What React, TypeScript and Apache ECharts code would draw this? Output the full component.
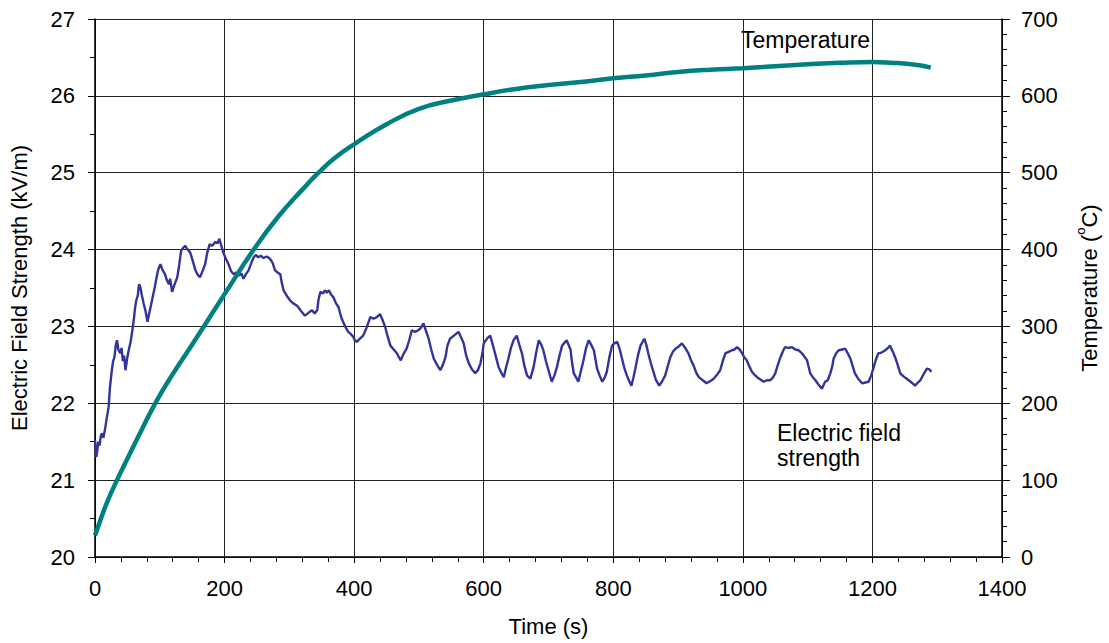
import React, { useEffect, useRef } from "react";
import * as echarts from "echarts";

const timeTicks = [0, 200, 400, 600, 800, 1000, 1200, 1400];
const fieldTicks = [20, 21, 22, 23, 24, 25, 26, 27];
const tempTicks = [0, 100, 200, 300, 400, 500, 600, 700];

// [time (s), electric field strength (kV/m)]
const fieldReadings: [number, number][] = [
  [0, 21.52], [2, 21.3], [3, 21.35], [5, 21.5], [7, 21.45], [9, 21.58], [11, 21.61], [13, 21.55], [16, 21.69],
  [18, 21.8], [21, 21.95], [23, 22.2], [26, 22.43], [28, 22.55], [30, 22.6], [32, 22.75], [34, 22.82], [36, 22.7],
  [39, 22.65], [41, 22.72], [43, 22.55], [45, 22.62], [47, 22.43], [50, 22.6], [52, 22.69], [55, 22.8], [57, 22.91],
  [60, 23.1], [62, 23.25], [64, 23.35], [66, 23.4], [68, 23.55], [70, 23.51], [72, 23.42], [75, 23.3], [78, 23.2],
  [81, 23.06], [84, 23.18], [88, 23.34], [92, 23.5], [96, 23.68], [98, 23.75], [101, 23.81], [104, 23.74], [108, 23.68],
  [111, 23.6], [114, 23.55], [116, 23.62], [119, 23.45], [123, 23.55], [127, 23.64], [130, 23.8], [133, 23.99],
  [136, 24.02], [139, 24.05], [143, 24.0], [147, 23.96], [151, 23.85], [155, 23.73], [158, 23.68], [162, 23.64],
  [166, 23.72], [170, 23.81], [173, 23.95], [177, 24.07], [181, 24.05], [186, 24.1], [189, 24.08], [192, 24.14],
  [195, 24.05], [198, 23.96], [202, 23.88], [206, 23.81], [210, 23.72], [214, 23.68], [218, 23.7], [222, 23.66],
  [226, 23.69], [229, 23.62], [233, 23.68], [237, 23.73], [241, 23.82], [245, 23.9], [248, 23.93], [252, 23.9],
  [256, 23.92], [260, 23.89], [265, 23.91], [270, 23.88], [274, 23.83], [278, 23.73], [282, 23.7], [286, 23.68],
  [288, 23.58], [291, 23.47], [296, 23.4], [301, 23.34], [306, 23.3], [312, 23.27], [318, 23.2], [324, 23.14],
  [330, 23.18], [335, 23.21], [339, 23.17], [343, 23.21], [345, 23.35], [348, 23.45], [352, 23.43], [355, 23.47],
  [358, 23.44], [361, 23.47], [364, 23.42], [368, 23.38], [372, 23.3], [376, 23.25], [380, 23.12], [384, 23.04],
  [388, 22.97], [391, 22.93], [395, 22.9], [399, 22.86], [401, 22.82], [404, 22.8], [409, 22.84], [414, 22.88],
  [419, 22.98], [425, 23.12], [430, 23.1], [435, 23.12], [440, 23.16], [444, 23.08], [448, 22.99], [452, 22.86],
  [456, 22.75], [461, 22.7], [466, 22.65], [469, 22.6], [472, 22.56], [476, 22.64], [481, 22.71], [485, 22.82],
  [489, 22.95], [494, 22.93], [499, 22.95], [503, 22.98], [507, 23.04], [511, 22.94], [515, 22.84], [519, 22.7],
  [523, 22.58], [528, 22.5], [533, 22.43], [537, 22.5], [541, 22.6], [544, 22.75], [548, 22.84], [554, 22.88],
  [561, 22.93], [565, 22.86], [569, 22.78], [573, 22.62], [577, 22.52], [582, 22.44], [587, 22.39], [591, 22.43],
  [595, 22.52], [598, 22.65], [600, 22.78], [605, 22.84], [610, 22.88], [615, 22.73], [619, 22.6], [623, 22.47],
  [627, 22.4], [631, 22.34], [634, 22.45], [638, 22.58], [642, 22.72], [646, 22.82], [651, 22.88], [655, 22.76],
  [659, 22.65], [663, 22.48], [667, 22.36], [672, 22.32], [677, 22.47], [681, 22.66], [685, 22.82], [689, 22.76],
  [692, 22.69], [696, 22.55], [700, 22.43], [705, 22.28], [709, 22.36], [713, 22.47], [717, 22.62], [721, 22.75],
  [728, 22.82], [734, 22.7], [736, 22.55], [739, 22.39], [743, 22.33], [746, 22.28], [750, 22.42], [754, 22.56],
  [758, 22.72], [762, 22.82], [766, 22.76], [770, 22.69], [775, 22.45], [779, 22.36], [783, 22.28], [787, 22.34],
  [790, 22.41], [794, 22.6], [798, 22.75], [802, 22.78], [806, 22.8], [810, 22.7], [813, 22.6], [817, 22.46],
  [821, 22.36], [825, 22.28], [828, 22.23], [831, 22.33], [834, 22.45], [838, 22.62], [842, 22.75], [848, 22.84],
  [851, 22.76], [854, 22.65], [858, 22.52], [862, 22.41], [866, 22.3], [871, 22.23], [875, 22.28], [880, 22.36],
  [884, 22.48], [888, 22.6], [892, 22.67], [896, 22.71], [901, 22.74], [906, 22.78], [911, 22.72], [916, 22.65],
  [920, 22.56], [924, 22.49], [928, 22.4], [932, 22.34], [938, 22.3], [944, 22.26], [950, 22.29], [955, 22.32],
  [960, 22.37], [965, 22.43], [969, 22.55], [973, 22.65], [978, 22.67], [983, 22.69], [987, 22.7], [991, 22.73],
  [995, 22.7], [999, 22.65], [1002, 22.6], [1006, 22.56], [1010, 22.48], [1014, 22.41], [1018, 22.37], [1022, 22.34],
  [1027, 22.31], [1032, 22.28], [1037, 22.3], [1042, 22.3], [1046, 22.33], [1050, 22.39], [1054, 22.5], [1058, 22.6],
  [1062, 22.68], [1065, 22.73], [1070, 22.72], [1076, 22.73], [1081, 22.7], [1086, 22.69], [1090, 22.66], [1094, 22.62],
  [1099, 22.56], [1102, 22.46], [1104, 22.39], [1108, 22.34], [1112, 22.3], [1117, 22.24], [1122, 22.19], [1127, 22.28],
  [1131, 22.3], [1135, 22.39], [1138, 22.48], [1140, 22.58], [1144, 22.65], [1148, 22.69], [1153, 22.7], [1158, 22.71],
  [1162, 22.65], [1166, 22.58], [1170, 22.47], [1173, 22.39], [1178, 22.32], [1184, 22.26], [1189, 22.27], [1194, 22.28],
  [1198, 22.36], [1202, 22.47], [1205, 22.56], [1209, 22.65], [1214, 22.66], [1220, 22.69], [1224, 22.72], [1227, 22.75],
  [1231, 22.68], [1235, 22.6], [1239, 22.5], [1243, 22.39], [1248, 22.35], [1253, 22.32], [1259, 22.28], [1266, 22.23],
  [1270, 22.27], [1274, 22.3], [1279, 22.38], [1284, 22.45], [1288, 22.44], [1291, 22.41],
];

// [time (s), temperature (°C)]
const tempReadings: [number, number][] = [
  [0, 28], [5, 40], [10, 52], [20, 74], [34, 100], [50, 128], [70, 162], [93, 200], [120, 238], [145, 270],
  [168, 300], [200, 342], [245, 400], [283, 443], [320, 478], [345, 500], [370, 519], [400, 537], [450, 563],
  [500, 583], [550, 594], [600, 602], [650, 609], [700, 614], [750, 618], [800, 623], [850, 626.5], [900, 631],
  [950, 634], [1000, 636], [1050, 638.5], [1100, 641], [1150, 643], [1200, 644], [1230, 643], [1260, 641], [1290, 637],
];

const FONT = "'Liberation Sans', Arial, sans-serif";
const AXIS_COLOR = "#000";
const GRID_COLOR = "#222";

export default function App() {
  const ref = useRef<HTMLDivElement>(null);

  useEffect(() => {
    if (!ref.current) return;
    const chart = echarts.init(ref.current, undefined, { renderer: "svg" });
    const labelStyle = { color: "#000", fontSize: 22, fontFamily: FONT };
    const nameStyle = { color: "#000", fontSize: 22, fontFamily: FONT };
    chart.setOption({
      animation: false,
      backgroundColor: "#fff",
      grid: { left: 95, right: 107, top: 19, bottom: 86, containLabel: false },
      xAxis: {
        type: "value",
        min: timeTicks[0],
        max: timeTicks[timeTicks.length - 1],
        interval: 200,
        name: "Time (s)",
        nameLocation: "middle",
        nameGap: 58,
        nameTextStyle: nameStyle,
        axisLine: { show: true, lineStyle: { color: AXIS_COLOR, width: 1.5 } },
        axisTick: { show: true, length: 6, lineStyle: { color: AXIS_COLOR } },
        minorTick: { show: true, splitNumber: 5, length: 5, lineStyle: { color: AXIS_COLOR } },
        axisLabel: { ...labelStyle, margin: 20, formatter: (v: number) => String(v) },
        splitLine: { show: true, lineStyle: { color: GRID_COLOR, width: 1 } },
      },
      yAxis: [
        {
          type: "value",
          position: "left",
          min: fieldTicks[0],
          max: fieldTicks[fieldTicks.length - 1],
          interval: 1,
          name: "Electric Field Strength (kV/m)",
          nameLocation: "middle",
          nameGap: 65,
          nameTextStyle: nameStyle,
          axisLine: { show: true, lineStyle: { color: AXIS_COLOR, width: 1.5 } },
          axisTick: { show: true, length: 7, lineStyle: { color: AXIS_COLOR } },
          minorTick: { show: true, splitNumber: 2, length: 5, lineStyle: { color: AXIS_COLOR } },
          axisLabel: { ...labelStyle, margin: 20, formatter: (v: number) => String(v) },
          splitLine: { show: true, lineStyle: { color: GRID_COLOR, width: 1 } },
        },
        {
          type: "value",
          position: "right",
          min: tempTicks[0],
          max: tempTicks[tempTicks.length - 1],
          interval: 100,
          name: "{a|Temperature (}{b|o}{a|C)}",
          nameLocation: "middle",
          nameGap: 72,
          nameRotate: 90,
          nameTextStyle: {
            ...nameStyle,
            rich: {
              a: { fontSize: 22, fontFamily: FONT, color: "#000", lineHeight: 26, verticalAlign: "bottom" },
              b: { fontSize: 13, fontFamily: FONT, color: "#000", lineHeight: 14, verticalAlign: "top" },
            },
          },
          axisLine: { show: true, lineStyle: { color: AXIS_COLOR, width: 1.5 } },
          axisTick: { show: true, length: 8, lineStyle: { color: AXIS_COLOR } },
          minorTick: { show: true, splitNumber: 5, length: 5, lineStyle: { color: AXIS_COLOR } },
          axisLabel: { ...labelStyle, margin: 19, formatter: (v: number) => String(v) },
          splitLine: { show: false },
        },
      ],
      graphic: [
        {
          type: "text",
          left: 741,
          top: 28,
          style: { text: "Temperature", fill: "#000", font: `23px ${FONT}` },
        },
        {
          type: "text",
          left: 777,
          top: 420,
          style: { text: "Electric field\nstrength", fill: "#000", font: `23px ${FONT}`, lineHeight: 25 },
        },
      ],
      series: [
        {
          type: "line",
          name: "Electric field strength",
          yAxisIndex: 0,
          data: fieldReadings,
          showSymbol: false,
          symbol: "none",
          lineStyle: { color: "#333399", width: 2.4 },
          z: 3,
        },
        {
          type: "line",
          name: "Temperature",
          yAxisIndex: 1,
          data: tempReadings,
          smooth: 0.5,
          showSymbol: false,
          symbol: "none",
          lineStyle: { color: "#008080", width: 4.5 },
          z: 4,
        },
      ],
    });
    return () => chart.dispose();
  }, []);

  return (
    <div
      ref={ref}
      style={{ position: "fixed", left: 0, top: 0, width: 1109, height: 643, background: "#fff" }}
    />
  );
}
